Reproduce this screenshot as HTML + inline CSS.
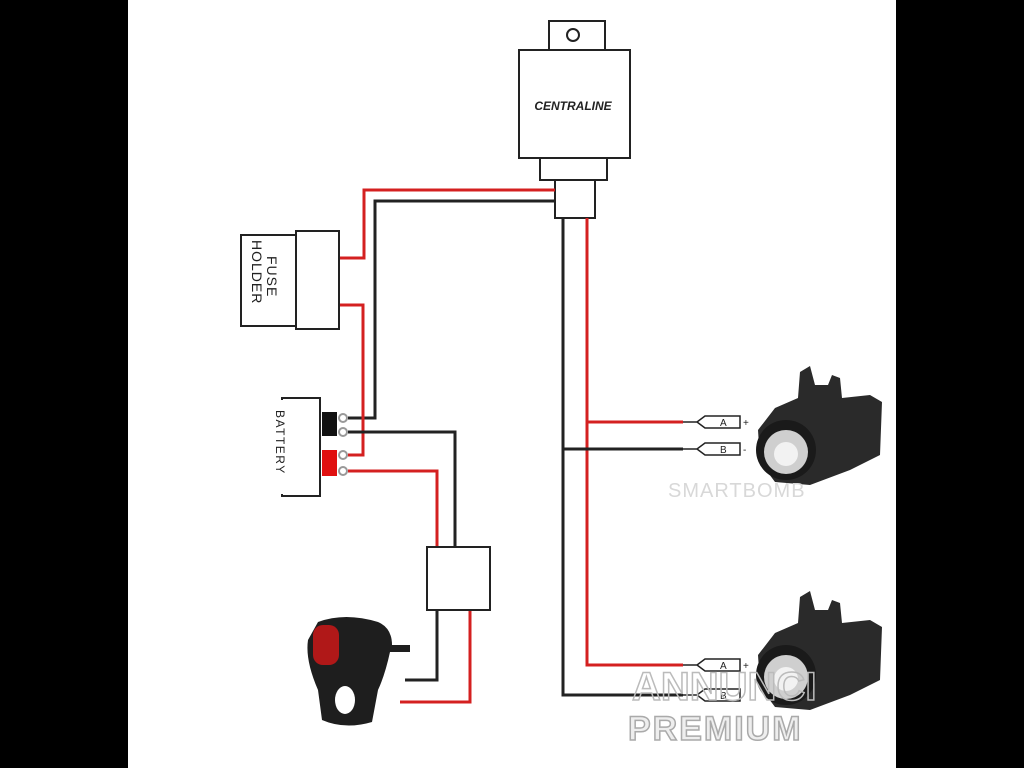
<!DOCTYPE html>
<html><head><style>html,body{margin:0;padding:0;background:#000}svg{display:block}</style></head><body>
<svg width="1024" height="768" viewBox="0 0 1024 768" xmlns="http://www.w3.org/2000/svg" font-family="Liberation Sans, sans-serif">
<rect x="0" y="0" width="1024" height="768" fill="#000"/>
<rect x="128" y="0" width="768" height="768" fill="#fff"/>
<g fill="none" stroke-width="3">
<rect x="549" y="21" width="56" height="30" stroke="#222" fill="#fff" stroke-width="2"/>
<circle cx="573" cy="35" r="6" stroke="#222" stroke-width="2"/>
<rect x="519" y="50" width="111" height="108" stroke="#222" fill="#fff" stroke-width="2"/>
<rect x="540" y="158" width="67" height="22" stroke="#222" fill="#fff" stroke-width="2"/>
<rect x="555" y="180" width="40" height="38" stroke="#222" fill="#fff" stroke-width="2"/>
<polyline points="555,190 364,190 364,258 340,258" stroke="#d42020"/>
<polyline points="555,201 375,201 375,418 348,418" stroke="#222"/>
<polyline points="340,305 363,305 363,455 348,455" stroke="#d42020"/>
<polyline points="348,432 455,432 455,548" stroke="#222"/>
<polyline points="348,471 437,471 437,548" stroke="#d42020"/>
<polyline points="437,610 437,680 405,680" stroke="#222"/>
<polyline points="470,610 470,702 400,702" stroke="#d42020"/>
<polyline points="563,218 563,695 683,695" stroke="#222"/>
<polyline points="587,218 587,665 683,665" stroke="#d42020"/>
<polyline points="587,422 683,422" stroke="#d42020"/>
<polyline points="563,449 683,449" stroke="#222"/>
<rect x="241" y="235" width="55" height="91" stroke="#222" fill="#fff" stroke-width="2"/>
<rect x="296" y="231" width="43" height="98" stroke="#222" fill="#fff" stroke-width="2"/>
<polyline points="282,400 282,398 320,398 320,496 282,496 282,494" stroke="#222" stroke-width="2"/>
<rect x="427" y="547" width="63" height="63" stroke="#222" fill="#fff" stroke-width="2"/>
</g>
<rect x="322" y="412" width="15" height="24" fill="#111"/>
<rect x="322" y="450" width="15" height="26" fill="#e01010"/>
<g fill="none" stroke="#999" stroke-width="2">
<circle cx="343" cy="418" r="4"/><circle cx="343" cy="432" r="4"/><circle cx="343" cy="455" r="4"/><circle cx="343" cy="471" r="4"/>
</g>
<text x="573" y="110" text-anchor="middle" font-size="12" font-weight="bold" font-style="italic" fill="#222">CENTRALINE</text>
<text transform="translate(267,256) rotate(90)" font-size="14" fill="#222" letter-spacing="1">FUSE</text>
<text transform="translate(252,240) rotate(90)" font-size="14" fill="#222" letter-spacing="1">HOLDER</text>
<text transform="translate(276,410) rotate(90)" font-size="12" fill="#222" letter-spacing="1.5">BATTERY</text>
<g stroke="#222" stroke-width="1.5" fill="none">
<path d="M683,422 L697,422 L705,416 L740,416 L740,428 L705,428 L697,422"/>
<path d="M683,449 L697,449 L705,443 L740,443 L740,455 L705,455 L697,449"/>
<path d="M683,665 L697,665 L705,659 L740,659 L740,671 L705,671 L697,665"/>
<path d="M683,695 L697,695 L705,689 L740,689 L740,701 L705,701 L697,695"/>
</g>
<g font-size="10" fill="#222"><text x="720" y="426">A</text><text x="743" y="426">+</text><text x="720" y="453">B</text><text x="743" y="453">-</text>
<text x="720" y="669">A</text><text x="743" y="669">+</text><text x="720" y="699">B</text></g>
<g id="lamp">
<path d="M800,372 L810,366 L815,385 L828,385 L832,375 L840,378 L842,398 L870,395 L882,402 L880,455 L850,470 L810,485 L775,482 L760,462 L758,430 L775,408 L798,398 Z" fill="#2a2a2a"/>
<circle cx="786" cy="450" r="30" fill="#1a1a1a"/>
<circle cx="786" cy="452" r="22" fill="#cfcfcf"/>
<circle cx="786" cy="454" r="12" fill="#f2f2f2"/>
</g>
<use href="#lamp" transform="translate(0,225)"/>
<text x="668" y="497" font-size="20" fill="#d8d8d8" letter-spacing="1">SMARTBOMB</text>
<path d="M318,622 Q345,612 378,622 Q392,628 392,645 L410,645 L410,652 L390,652 Q385,675 378,690 L372,722 Q345,730 322,720 L318,690 Q305,660 308,640 Z" fill="#1e1e1e"/>
<rect x="313" y="625" width="26" height="40" rx="10" fill="#b01818"/>
<ellipse cx="345" cy="700" rx="10" ry="14" fill="#fff"/>
<text x="632" y="700" font-size="40" font-weight="bold" fill="none" stroke="#bbb" stroke-width="1.5">ANNUNCI</text>
<text x="628" y="740" font-size="34" font-weight="bold" fill="#eee" stroke="#aaa" stroke-width="1.5" letter-spacing="2">PREMIUM</text>
</svg>
</body></html>
